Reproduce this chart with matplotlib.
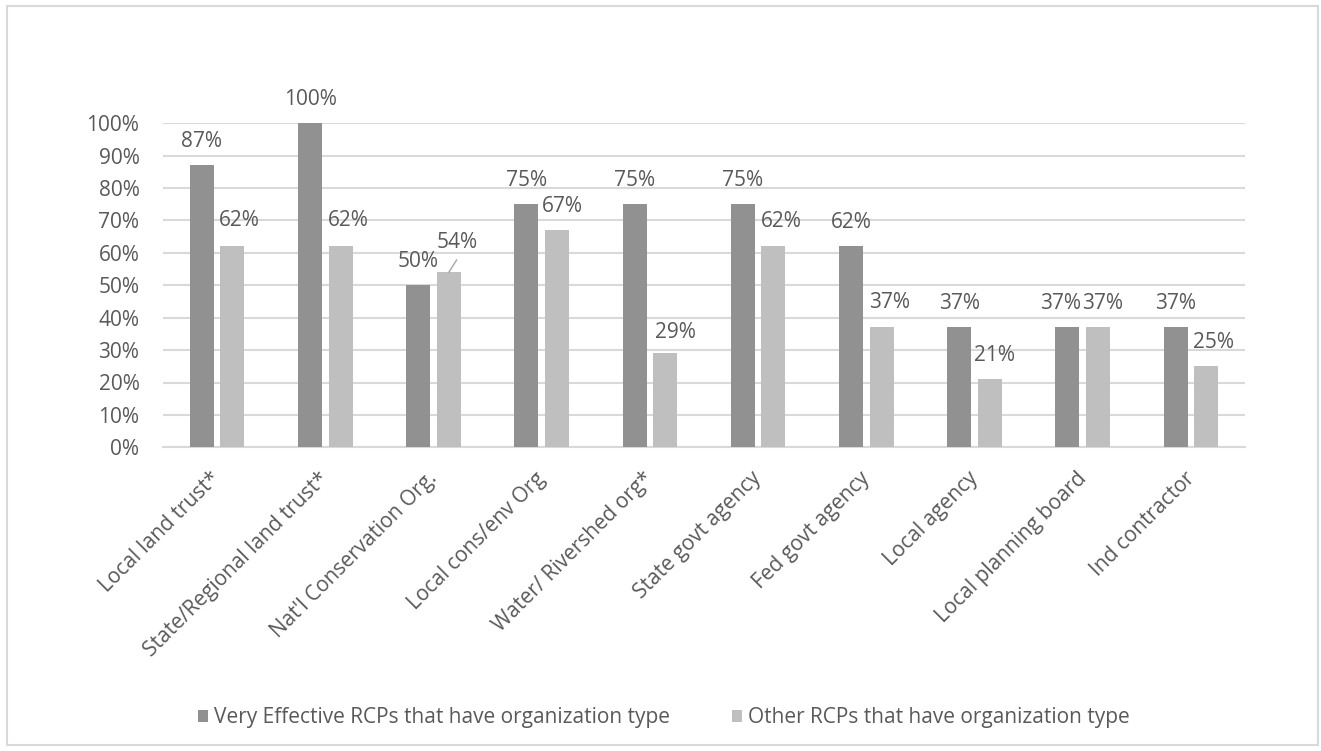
import matplotlib
matplotlib.use("Agg")
import matplotlib.pyplot as plt
from matplotlib.patches import Rectangle
from matplotlib.ticker import PercentFormatter
from matplotlib.transforms import ScaledTranslation
import numpy as np

categories = ["Local land trust*", "State/Regional land trust*", "Nat'l Conservation Org.",
              "Local cons/env Org", "Water/ Rivershed org*", "State govt agency",
              "Fed govt agency", "Local agency", "Local planning board", "Ind contractor"]
very_effective = [87, 100, 50, 75, 75, 75, 62, 37, 37, 37]
other_rcps = [62, 62, 54, 67, 29, 62, 37, 21, 37, 25]
series_names = ["Very Effective RCPs that have organization type",
                "Other RCPs that have organization type"]
y_ticks = [0, 10, 20, 30, 40, 50, 60, 70, 80, 90, 100]

# label offsets in pixels (dx, dy) from bar top centre -- styling only
dark_offsets = [(0, -24)] * 10
dark_offsets[8] = (-7, -24)
light_offsets = [(7, -26), (8, -26), (8, -30), (5, -24), (10, -21),
                 (8, -25), (8, -25), (5, -24), (5, -24), (7, -24)]

plt.rcParams['font.family'] = ['Open Sans', 'DejaVu Sans']
TXT = '#595959'
DARK = '#919191'
LIGHT = '#bfbfbf'
GRID = '#d9d9d9'
FS = 15

W, H = 1321, 751
fig = plt.figure(figsize=(W / 100, H / 100), dpi=100)
fig.patch.set_facecolor('white')
fig.patches.append(Rectangle((7 / W, 6 / H), 1311 / W, 739 / H, transform=fig.transFigure,
                             fill=False, edgecolor=GRID, linewidth=1.5))

ax = fig.add_axes([163 / W, (H - 447.3) / H, (1245 - 163) / W, (447.3 - 123.3) / H])
x = np.arange(len(categories))
bw = 0.222
off = 0.141
b1 = ax.bar(x - off, very_effective, width=bw, color=DARK, zorder=3, label=series_names[0])
b2 = ax.bar(x + off, other_rcps, width=bw, color=LIGHT, zorder=3, label=series_names[1])

ax.set_xlim(-0.5, len(categories) - 0.5)
ax.set_ylim(0, 100)
ax.set_yticks(y_ticks)
ax.yaxis.set_major_formatter(PercentFormatter(decimals=0))
ax.grid(axis='y', color=GRID, linewidth=1.5, zorder=0)
for s in ['top', 'right', 'left']:
    ax.spines[s].set_visible(False)
ax.spines['bottom'].set_color(GRID)
ax.spines['bottom'].set_linewidth(1.5)
ax.tick_params(axis='y', length=0, pad=17, labelsize=FS, labelcolor=TXT)
ax.tick_params(axis='x', length=0, pad=15, labelsize=FS, labelcolor=TXT)
ax.set_xticks(x)
ax.set_xticklabels(categories, rotation=45, ha='right', rotation_mode='anchor')
shift = ScaledTranslation(-7 / 100, 0, fig.dpi_scale_trans)
for lab in ax.get_xticklabels():
    lab.set_transform(lab.get_transform() + shift)

px = 72 / 100  # pixels to points
for i, v in enumerate(very_effective):
    dx, dy = dark_offsets[i]
    ax.annotate(f"{v}%", (x[i] - off, v), xytext=(dx * px, -dy * px), textcoords='offset points',
                ha='center', va='center', fontsize=FS, color=TXT, annotation_clip=False)
for i, v in enumerate(other_rcps):
    dx, dy = light_offsets[i]
    ax.annotate(f"{v}%", (x[i] + off, v), xytext=(dx * px, -dy * px), textcoords='offset points',
                ha='center', va='center', fontsize=FS, color=TXT, annotation_clip=False)
# leader line for the Nat'l Conservation light label
ax.annotate("", (x[2] + off, other_rcps[2]), xytext=(8 * px, 12.5 * px), textcoords='offset points',
            arrowprops=dict(arrowstyle='-', color='#a6a6a6', lw=1, shrinkA=0, shrinkB=0))

leg = fig.legend(handles=[b1, b2], loc='center', bbox_to_anchor=(664 / W, (H - 718) / H),
                 ncol=2, frameon=False, fontsize=FS,
                 handlelength=0.45, handleheight=0.45, handletextpad=0.3, columnspacing=3.0,
                 labelcolor=TXT)

fig.savefig('out.png', dpi=100)
